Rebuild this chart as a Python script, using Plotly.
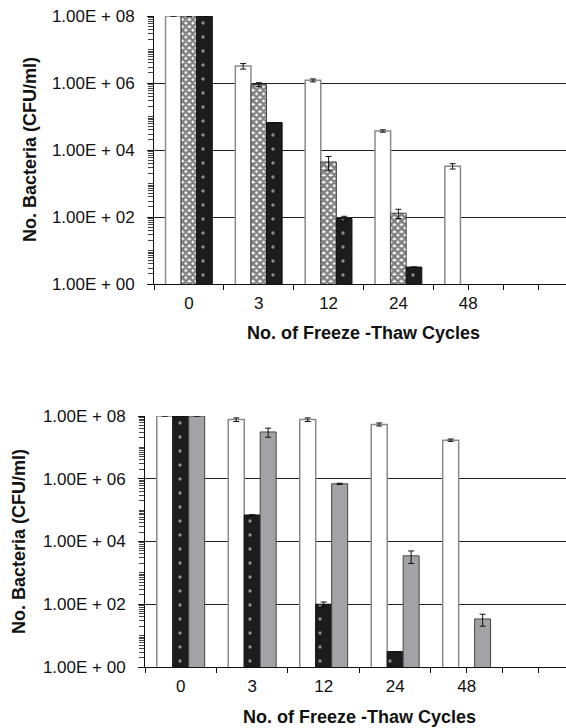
import plotly.graph_objects as go

# ---------------- data ----------------
cycles = ["0", "3", "12", "24", "48"]
ytick_vals = [1e0, 1e2, 1e4, 1e6, 1e8]
ytick_text = ["1.00E + 00", "1.00E + 02", "1.00E + 04", "1.00E + 06", "1.00E + 08"]

# top panel
top_white = [1e8, 3.2e6, 1.2e6, 3.7e4, 3.3e3]
top_white_err = [0, 0.6e6, 0.12e6, 0.3e4, 0.6e3]
top_check = [1e8, 9.0e5, 4.4e3, 1.3e2, None]
top_check_err = [0, 1.2e5, 2.0e3, 40, 0]
top_black = [1e8, 6.6e4, 90, 3.2, None]
top_black_err = [0, 0, 15, 0, 0]

# bottom panel
bot_white = [1e8, 7.7e7, 7.7e7, 5.4e7, 1.7e7]
bot_white_err = [0, 1.0e7, 1.0e7, 6e6, 1.5e6]
bot_black = [1e8, 7.0e4, 100, 3.1, None]
bot_black_err = [0, 0, 18, 0, 0]
bot_gray = [1e8, 3.1e7, 6.9e5, 3.5e3, 34]
bot_gray_err = [0, 1.0e7, 3e4, 1.5e3, 14]

# ---------------- figure ----------------
W, H = 566, 728
FONT = "Liberation Sans, Arial, sans-serif"
pos = list(range(len(cycles)))

def err(a):
    return dict(type="data", array=a, color="#111", thickness=1, width=3, visible=True)

white_style = dict(color="white", line=dict(color="#8a8a8a", width=1.5))
check_style = dict(color="white",
                   pattern=dict(shape="x", fgcolor="#000", bgcolor="white", size=5, solidity=0.75),
                   line=dict(color="#444", width=1))
black_style = dict(color="#1c1c1c",
                   pattern=dict(shape=".", fgcolor="white", bgcolor="#1c1c1c", size=14, solidity=0.045),
                   line=dict(color="#111", width=1))
gray_style = dict(color="#a3a3a5", line=dict(color="#444", width=1))

fig = go.Figure()
fig.add_bar(x=pos, y=top_white, error_y=err(top_white_err), marker=white_style, xaxis="x", yaxis="y")
fig.add_bar(x=pos, y=top_check, error_y=err(top_check_err), marker=check_style, xaxis="x", yaxis="y")
fig.add_bar(x=pos, y=top_black, error_y=err(top_black_err), marker=black_style, xaxis="x", yaxis="y")

fig.add_bar(x=pos, y=bot_white, error_y=err(bot_white_err), marker=white_style, xaxis="x2", yaxis="y2")
fig.add_bar(x=pos, y=bot_black, error_y=err(bot_black_err), marker=black_style, xaxis="x2", yaxis="y2")
fig.add_bar(x=pos, y=bot_gray, error_y=err(bot_gray_err), marker=gray_style, xaxis="x2", yaxis="y2")

boundaries = [i - 0.5 for i in range(len(cycles) + 2)] + [4.0, 5.0]
minor_y = [k * 10 ** e for e in range(0, 8) for k in range(2, 10)] + [10 ** e for e in (1, 3, 5, 7)]

def xaxis(domain, anchor, right):
    return dict(domain=domain, anchor=anchor, range=[-0.5, right],
                tickmode="array", tickvals=pos, ticktext=cycles, ticks="",
                showline=True, linecolor="#111", linewidth=1, showgrid=False, zeroline=False,
                tickfont=dict(family=FONT, size=17, color="#111"),
                ticklabelstandoff=4,
                minor=dict(tickmode="array", tickvals=boundaries, ticks="outside",
                           ticklen=5, tickcolor="#111", tickwidth=1, showgrid=False),
                automargin=False, fixedrange=True)

def yaxis(domain, anchor):
    return dict(domain=domain, anchor=anchor, type="log", range=[0, 8],
                tickmode="array", tickvals=ytick_vals, ticktext=ytick_text,
                ticks="outside", ticklen=6, tickcolor="#111", tickwidth=1,
                showline=True, linecolor="#111", linewidth=1,
                showgrid=True, gridcolor="#222", gridwidth=1, zeroline=False,
                tickfont=dict(family=FONT, size=17, color="#111"),
                ticklabelstandoff=9,
                minor=dict(tickmode="array", tickvals=minor_y, ticks="outside",
                           ticklen=5, tickcolor="#444", tickwidth=1, showgrid=False),
                automargin=False, fixedrange=True)

fig.update_layout(
    width=W, height=H,
    margin=dict(l=0, r=0, t=0, b=0),
    paper_bgcolor="white", plot_bgcolor="white",
    barmode="group", bargap=0.33, bargroupgap=0,
    showlegend=False,
    xaxis=xaxis([154 / W, 1], "y", 5.40),
    yaxis=yaxis([1 - 284 / H, 1 - 16 / H], "x"),
    xaxis2=xaxis([145 / W, 1], "y2", 5.39),
    yaxis2=yaxis([1 - 667 / H, 1 - 416 / H], "x2"),
    font=dict(family=FONT, color="#111"),
)

title_font = dict(family=FONT, size=18, color="#111")
ytitle = "<b>No. Bacteria (CFU/ml)</b>"
xtitle = "<b>No. of Freeze -Thaw Cycles</b>"
fig.add_annotation(text=ytitle, x=30 / W, y=1 - 150 / H, xref="paper", yref="paper",
                   textangle=-90, showarrow=False, font=title_font, xanchor="center", yanchor="middle")
fig.add_annotation(text=xtitle, x=363 / W, y=1 - 333 / H, xref="paper", yref="paper",
                   showarrow=False, font=title_font, xanchor="center", yanchor="middle")
fig.add_annotation(text=ytitle, x=19 / W, y=1 - 542 / H, xref="paper", yref="paper",
                   textangle=-90, showarrow=False, font=title_font, xanchor="center", yanchor="middle")
fig.add_annotation(text=xtitle, x=359 / W, y=1 - 717 / H, xref="paper", yref="paper",
                   showarrow=False, font=title_font, xanchor="center", yanchor="middle")

fig.write_html("out.html", config={"displayModeBar": False})
